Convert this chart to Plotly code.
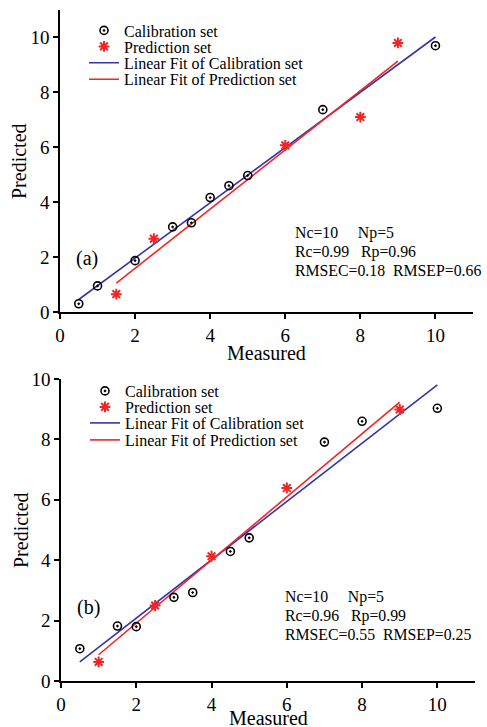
import numpy as np
import plotly.graph_objects as go

# ---------------- data ----------------
# panel (a)
a_cal_x = [0.5, 1, 2, 3, 3.5, 4, 4.5, 5, 7, 10]
a_cal_y = [0.30, 0.95, 1.87, 3.10, 3.25, 4.17, 4.60, 4.97, 7.37, 9.70]
a_pre_x = [1.5, 2.5, 6, 8, 9]
a_pre_y = [0.65, 2.67, 6.07, 7.10, 9.80]
a_stats = ["Nc=10\u00a0\u00a0\u00a0\u00a0\u00a0Np=5",
           "Rc=0.99\u00a0\u00a0\u00a0Rp=0.96",
           "RMSEC=0.18\u00a0\u00a0RMSEP=0.66"]
# panel (b)
b_cal_x = [0.5, 1.5, 2, 3, 3.5, 4.5, 5, 7, 8, 10]
b_cal_y = [1.07, 1.82, 1.80, 2.77, 2.93, 4.29, 4.74, 7.91, 8.60, 9.03]
b_pre_x = [1, 2.5, 4, 6, 9]
b_pre_y = [0.63, 2.50, 4.13, 6.39, 8.99]
b_stats = ["Nc=10\u00a0\u00a0\u00a0\u00a0\u00a0Np=5",
           "Rc=0.96\u00a0\u00a0\u00a0Rp=0.99",
           "RMSEC=0.55\u00a0\u00a0RMSEP=0.25"]

x_ticks = [0, 2, 4, 6, 8, 10]
y_ticks = [0, 2, 4, 6, 8, 10]
names = ["Calibration set", "Prediction set",
         "Linear Fit of Calibration set", "Linear Fit of Prediction set"]
x_title = "Measured"
y_title = "Predicted"

FONT = "Liberation Serif, Times New Roman, serif"
BLUE = "#3535a8"
RED = "#f22424"
W, H = 487, 727


def fit_line(x, y):
    k, b = np.polyfit(x, y, 1)
    xs = np.array([min(x), max(x)])
    return xs, k * xs + b


fig = go.Figure()

panels = [
    (a_cal_x, a_cal_y, a_pre_x, a_pre_y, "x", "y", ["legend", "legend2", "legend3", "legend4"]),
    (b_cal_x, b_cal_y, b_pre_x, b_pre_y, "x2", "y2", ["legend5", "legend6", "legend7", "legend8"]),
]

for cx, cy, px, py, xa, ya, lg in panels:
    fx, fy = fit_line(cx, cy)
    gx, gy = fit_line(px, py)
    fig.add_trace(go.Scatter(x=fx, y=fy, mode="lines", name=names[2], legend=lg[2],
                             showlegend=True,
                             line=dict(color=BLUE, width=1.6), xaxis=xa, yaxis=ya))
    fig.add_trace(go.Scatter(x=gx, y=gy, mode="lines", name=names[3], legend=lg[3],
                             showlegend=True,
                             line=dict(color=RED, width=1.6), xaxis=xa, yaxis=ya))
    fig.add_trace(go.Scatter(x=cx, y=cy, mode="markers", name=names[0], legend=lg[0],
                             showlegend=True,
                             marker=dict(symbol="circle-open-dot", size=8, color="black",
                                         line=dict(width=1.6, color="black")),
                             xaxis=xa, yaxis=ya))
    fig.add_trace(go.Scatter(x=px, y=py, mode="markers", name=names[1], legend=lg[1],
                             showlegend=True,
                             marker=dict(symbol="asterisk-open", size=9, color=RED,
                                         line=dict(width=2, color=RED)),
                             xaxis=xa, yaxis=ya))

axis_common = dict(showgrid=False, zeroline=False, showline=True, linecolor="black",
                   linewidth=1.5, ticks="outside", ticklen=5, tickwidth=1.5,
                   tickcolor="black", tickfont=dict(family=FONT, size=19, color="black"),
                   mirror=False, automargin=False)

layout = dict(
    width=W, height=H, margin=dict(l=0, r=0, t=0, b=0, autoexpand=False),
    showlegend=True,
    paper_bgcolor="white", plot_bgcolor="white",
    font=dict(family=FONT, color="black"),
    xaxis=dict(domain=[60 / W, 473 / W], range=[0, 11], tickvals=x_ticks, anchor="y",
               **axis_common),
    yaxis=dict(domain=[1 - 312 / H, 1 - 10 / H], range=[0, 11], tickvals=y_ticks, anchor="x",
               **axis_common),
    xaxis2=dict(domain=[61 / W, 475 / W], range=[0, 11], tickvals=x_ticks, anchor="y2",
                **axis_common),
    yaxis2=dict(domain=[1 - 681 / H, 1 - 379 / H], range=[0, 10], tickvals=y_ticks, anchor="x2",
                **axis_common),
)

leg_rows_top = [30.5, 46.5, 62.8, 79.3]
leg_rows_bot = [391, 407, 423, 440]
leg_names = ["legend", "legend2", "legend3", "legend4",
             "legend5", "legend6", "legend7", "legend8"]
rows = leg_rows_top + leg_rows_bot
lefts = [84] * 4 + [85] * 4
for ln, ry, lx in zip(leg_names, rows, lefts):
    layout[ln] = dict(x=lx / W, xanchor="left", y=1 - ry / H, yanchor="middle",
                      bgcolor="rgba(0,0,0,0)", borderwidth=0, visible=True,
                      font=dict(family=FONT, size=16, color="black"))

fig.update_layout(**layout)

# axis titles
for xa, ya, dy, dx in [("x", "y", -41, -41), ("x2", "y2", -37, -40)]:
    fig.add_annotation(x=0.5, y=0, xref=f"{xa} domain", yref=f"{ya} domain",
                       text=x_title, showarrow=False, yshift=dy, yanchor="middle",
                       font=dict(family=FONT, size=20))
    fig.add_annotation(x=0, y=0.5, xref=f"{xa} domain", yref=f"{ya} domain",
                       text=y_title, showarrow=False, xshift=dx, textangle=-90,
                       xanchor="center", font=dict(family=FONT, size=20))

# panel labels and statistics
fig.add_annotation(x=0.71, y=1.96, xref="x", yref="y", text="(a)", showarrow=False,
                   font=dict(family=FONT, size=20))
fig.add_annotation(x=0.72, y=2.45, xref="x2", yref="y2", text="(b)", showarrow=False,
                   font=dict(family=FONT, size=20))
for txt, yy in zip(a_stats, [2.88, 2.19, 1.50]):
    fig.add_annotation(x=6.20, y=yy, xref="x", yref="y", text=txt, showarrow=False,
                       xanchor="left", font=dict(family=FONT, size=15.8))
for txt, yy in zip(b_stats, [2.79, 2.16, 1.53]):
    fig.add_annotation(x=5.90, y=yy, xref="x2", yref="y2", text=txt, showarrow=False,
                       xanchor="left", font=dict(family=FONT, size=15.8))

fig.write_html("out.html")
